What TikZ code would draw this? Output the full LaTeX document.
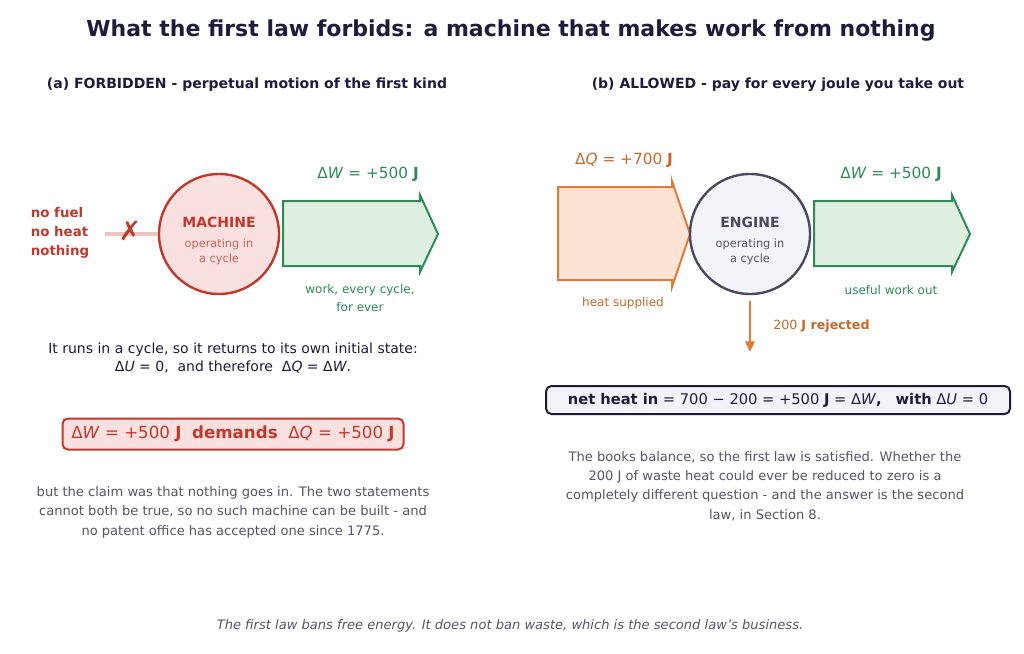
\documentclass[tikz,border=0pt]{standalone}
\usepackage{fontspec}
\setmainfont{DejaVu Sans}
\usetikzlibrary{arrows.meta}
\definecolor{red1}{HTML}{C0392B}\definecolor{redf}{HTML}{FBE0E0}
\definecolor{grn}{HTML}{2E8B57}\definecolor{grnf}{HTML}{DFF0E0}
\definecolor{org}{HTML}{E07B39}\definecolor{orgf}{HTML}{FDE3D3}
\definecolor{orgt}{HTML}{C8692A}
\definecolor{navy}{HTML}{1C1C3C}\definecolor{gry}{HTML}{555566}
\definecolor{eng}{HTML}{4A4A5E}\definecolor{engf}{HTML}{F2F4FA}
\newcommand{\vr}[1]{\textit{#1}}
\begin{document}
\begin{tikzpicture}[x=0.75pt,y=-0.75pt,
 t/.style={inner sep=0pt,align=center,font=\fontsize{10.5}{14}\selectfont},
 s/.style={inner sep=0pt,align=center,font=\fontsize{9}{13}\selectfont},
 h/.style={inner sep=0pt,font=\bfseries\fontsize{10.5}{13}\selectfont,text=navy}]
\useasboundingbox[fill=white] (0,0) rectangle (1024,653);
\node[inner sep=0pt,font=\bfseries\fontsize{16.5}{20}\selectfont,text=navy] (title) at (511,31) {What the first law forbids: a machine that makes work from nothing};
\node[h] (ha) at (247,85) {(a) FORBIDDEN - perpetual motion of the first kind};
\node[h] (hb) at (778,85) {(b) ALLOWED - pay for every joule you take out};
% left
\node[circle,draw=red1,line width=1.8pt,fill=redf,minimum size=120\pgflinewidth/1.8*0.75/0.75,inner sep=0pt,minimum size=90pt] (m) at (219,234) {};
\node[inner sep=0pt,font=\bfseries\fontsize{10.5}{13}\selectfont,text=red1] (mt) at (219,222) {MACHINE};
\node[s,text=red1!80,font=\fontsize{8.5}{11}\selectfont] (ms) at (219,252) {operating in\\a cycle};
\draw[grn,line width=1.5pt,fill=grnf] (283,201) -- (420,201) -- (420,195) -- (438,234) -- (420,272) -- (420,266) -- (283,266) -- cycle;
\coordinate (lf) at (105,234);
\draw[red1!30,line width=2.5pt] (lf) -- (m.west);
\node[inner sep=0pt,text=red1,font=\bfseries\fontsize{20}{20}\selectfont] (x) at (130,231) {✗};
\node[inner sep=0pt,align=left,text=red1,font=\bfseries\fontsize{10}{14.3}\selectfont] (nf) at (60,233) {no fuel\\no heat\\nothing};
\node[t,text=grn,font=\fontsize{11.5}{14}\selectfont] (dw1) at (368,174) {Δ\vr{W} = +500 \textbf{J}};
\node[s,text=grn] (w1) at (360,298) {work, every cycle,\\for ever};
\node[t,text=navy] (p1) at (233,358) {It runs in a cycle, so it returns to its own initial state:\\Δ\vr{U} = 0,\ \ and therefore\ \ Δ\vr{Q} = Δ\vr{W}.};
\node[draw=red1,fill=redf,line width=1.5pt,rounded corners=4pt,minimum width=341*0.75pt,minimum height=31*0.75pt,inner sep=0pt,text=red1,font=\fontsize{12.5}{14}\selectfont] (bx1) at (233,434) {Δ\vr{W} = +500 \textbf{J}\ \ \textbf{demands}\ \ Δ\vr{Q} = +500 \textbf{J}};
\node[t,text=gry,font=\fontsize{9.8}{14.6}\selectfont] (p2) at (233,512) {but the claim was that nothing goes in. The two statements\\cannot both be true, so no such machine can be built - and\\no patent office has accepted one since 1775.};
% right
\draw[org,line width=1.5pt,fill=orgf] (558,187) -- (672,187) -- (672,181) -- (690,234) -- (672,287) -- (672,280) -- (558,280) -- cycle;
\node[circle,draw=eng,line width=1.8pt,fill=engf,inner sep=0pt,minimum size=90pt] (e) at (750,234) {};
\node[inner sep=0pt,font=\bfseries\fontsize{10.5}{13}\selectfont,text=eng] (et) at (750,222) {ENGINE};
\node[s,text=gry,font=\fontsize{8.5}{11}\selectfont] (es) at (750,252) {operating in\\a cycle};
\draw[grn,line width=1.5pt,fill=grnf] (814,201) -- (952,201) -- (952,195) -- (970,234) -- (952,272) -- (952,266) -- (814,266) -- cycle;
\node[t,text=orgt,font=\fontsize{11.5}{14}\selectfont] (dq) at (624,160) {Δ\vr{Q} = +700 \textbf{J}};
\node[t,text=grn,font=\fontsize{11.5}{14}\selectfont] (dw2) at (891,174) {Δ\vr{W} = +500 \textbf{J}};
\node[s,text=orgt] (hs) at (623,303) {heat supplied};
\node[s,text=grn] (uw) at (891,290) {useful work out};
\coordinate (dn) at (750,352);
\draw[org,line width=2pt,-{Triangle[length=8pt,width=7pt]}] ([yshift=-4.5pt]e.south) -- (dn);
\node[anchor=west,inner sep=0pt,text=orgt,font=\fontsize{9.5}{12}\selectfont] (rj) at (773,326) {200 \textbf{J rejected}};
\node[draw=navy,fill=engf,line width=1.5pt,rounded corners=4pt,minimum width=464*0.75pt,minimum height=28*0.75pt,inner sep=0pt,text=navy,font=\fontsize{11}{14}\selectfont] (bx2) at (778,400) {\textbf{net heat in}\ = 700 − 200 = +500 \textbf{J}\ = Δ\vr{W}\textbf{,}\ \ \ \textbf{with} Δ\vr{U} = 0};
\node[t,text=gry,font=\fontsize{9.8}{14.6}\selectfont] (p3) at (765,486) {The books balance, so the first law is satisfied. Whether the\\200 J of waste heat could ever be reduced to zero is a\\completely different question - and the answer is the second\\law, in Section 8.};
\node[inner sep=0pt,text=gry,font=\itshape\fontsize{9.8}{12}\selectfont] (ft) at (510,626) {The first law bans free energy. It does not ban waste, which is the second law's business.};
\end{tikzpicture}
\end{document}
